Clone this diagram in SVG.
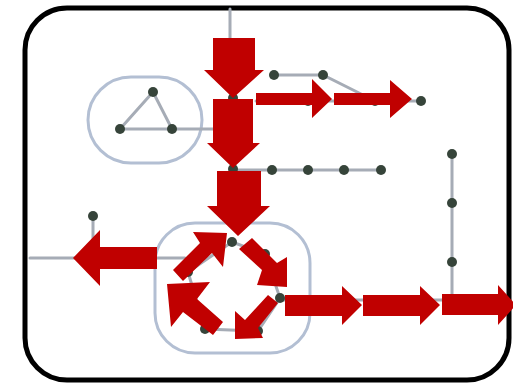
<svg xmlns="http://www.w3.org/2000/svg" width="513" height="387" viewBox="0 0 513 387">
<style>
.ln{stroke:#a6acb6;stroke-width:3;fill:none;stroke-linecap:round}
.nd{fill:#36443a}
.grp{fill:none;stroke:#b3bfd3;stroke-width:3}
.arr{fill:#c00000}
</style>
<rect width="513" height="387" fill="#ffffff"/>
<g id="frame"><rect x="25" y="8" width="484" height="372" rx="42" fill="none" stroke="#000" stroke-width="5"/></g>
<g id="group-triangle"><rect class="grp" x="88" y="77" width="114" height="86" rx="43"/></g>
<g id="group-ring"><rect class="grp" x="155" y="223" width="155" height="130" rx="40"/></g>
<g id="connectors">
<path class="ln" d="M230 9V40"/>
<path class="ln" d="M153 92L120 129H172L153 92M172 129H232"/>
<path class="ln" d="M233 98V170"/>
<path class="ln" d="M274 75H323L375 101M256 101H421"/>
<path class="ln" d="M233 170H381"/>
<path class="ln" d="M452 154V300H280"/>
<path class="ln" d="M30 258H185M93 216V258"/>
<path class="ln" d="M232 242L265 254L280 298L258 331L205 329L188 272L232 242"/>
</g>
<g id="nodes">
<circle id="n1" class="nd" cx="153" cy="92" r="5"/>
<circle id="n2" class="nd" cx="120" cy="129" r="5"/>
<circle id="n3" class="nd" cx="172" cy="129" r="5"/>
<circle id="n4" class="nd" cx="233" cy="98" r="5"/>
<circle id="n5" class="nd" cx="233" cy="169" r="5"/>
<circle id="n6" class="nd" cx="274" cy="75" r="5"/>
<circle id="n7" class="nd" cx="323" cy="75" r="5"/>
<circle id="n8" class="nd" cx="308" cy="101" r="5"/>
<circle id="n9" class="nd" cx="375" cy="101" r="5"/>
<circle id="n10" class="nd" cx="421" cy="101" r="5"/>
<circle id="n11" class="nd" cx="272" cy="170" r="5"/>
<circle id="n12" class="nd" cx="308" cy="170" r="5"/>
<circle id="n13" class="nd" cx="344" cy="170" r="5"/>
<circle id="n14" class="nd" cx="381" cy="170" r="5"/>
<circle id="n15" class="nd" cx="452" cy="154" r="5"/>
<circle id="n16" class="nd" cx="452" cy="203" r="5"/>
<circle id="n17" class="nd" cx="452" cy="262" r="5"/>
<circle id="n18" class="nd" cx="93" cy="216" r="5"/>
<circle id="n19" class="nd" cx="232" cy="242" r="5"/>
<circle id="n20" class="nd" cx="265" cy="254" r="5"/>
<circle id="n21" class="nd" cx="280" cy="298" r="5"/>
<circle id="n22" class="nd" cx="258" cy="331" r="5"/>
<circle id="n23" class="nd" cx="205" cy="329" r="5"/>
<circle id="n24" class="nd" cx="188" cy="272" r="5"/>
</g>
<g id="arrows">
<polygon class="arr" points="213,38 255,38 255,70 264,70 233,98 204,70 213,70"/>
<polygon class="arr" points="213,99 253,99 253,143 260,143 233,168 207,143 213,143"/>
<polygon class="arr" points="217,171 261,171 261,206 270,206 238,236 207,206 217,206"/>
<polygon class="arr" points="256,93 312,93 312,79 332,99 312,118 312,105 256,105"/>
<polygon class="arr" points="334,93 390,93 390,80 412,99 390,118 390,105 334,105"/>
<polygon class="arr" points="285,295 342,295 342,286 362,305 342,325 342,316 285,316"/>
<polygon class="arr" points="363,295 420,295 420,286 440,305 420,325 420,316 363,316"/>
<polygon class="arr" points="442,294 498,294 498,285 516,305 498,325 498,315 442,315"/>
<polygon class="arr" points="157,247 100,247 100,230 73,258 100,286 100,269 157,269"/>
<polygon class="arr" points="173,270 200,243 193,232 227,233 223,267 212,253 183,281"/>
<polygon class="arr" points="252,238 277,263 287,257 287,287 257,285 262,270 239,249"/>
<polygon class="arr" points="278,303 258,328 263,338 235,339 235,311 245,320 268,295"/>
<polygon class="arr" points="213,335 183,312 171,327 167,284 210,282 197,299 223,322"/>
</g>
</svg>
